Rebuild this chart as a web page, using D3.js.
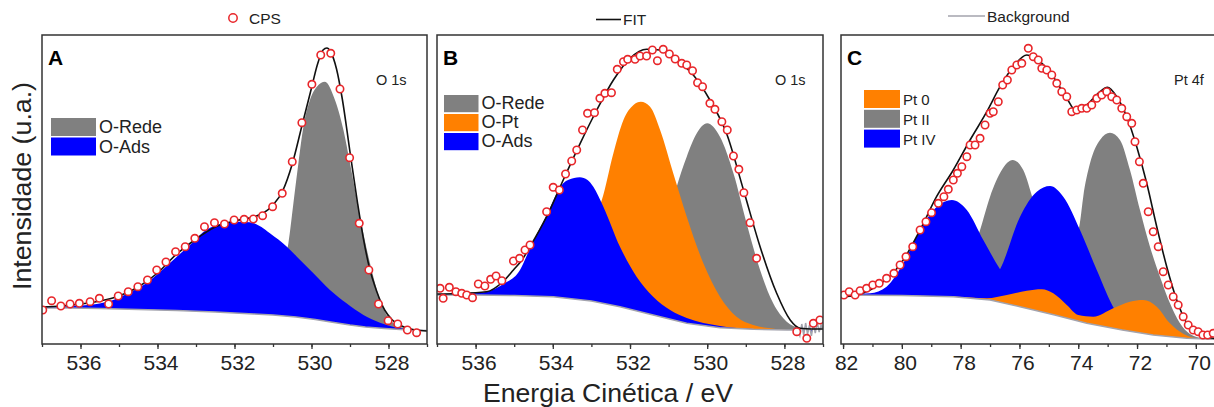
<!DOCTYPE html>
<html><head><meta charset="utf-8">
<script src="https://cdn.jsdelivr.net/npm/d3@7"></script>
<style>html,body{margin:0;padding:0;background:#fff;} svg{display:block;font-family:Arial,"Liberation Sans",sans-serif;}</style>
</head><body><svg id="chart" width="1214" height="407"></svg>
<script>
// ---------- DATA (binding energy eV, intensity a.u.) ----------
const oTicks = [536, 534, 532, 530, 528];
const ptTicks = [82, 80, 78, 76, 74, 72, 70];
const topLegend = ["CPS", "FIT", "Background"];
const legendA = ["O-Rede", "O-Ads"];
const legendB = ["O-Rede", "O-Pt", "O-Ads"];
const legendC = ["Pt 0", "Pt II", "Pt IV"];

// Panel A  (O 1s)
const aCps = [[536.98,34],[536.75,43.3],[536.51,38],[536.27,40],[536.03,40.7],[535.75,42.3],[535.51,45.7],[535.27,40],[535.02,48],[534.76,52.3],[534.51,57.3],[534.26,64],[534.02,74],[533.78,82],[533.53,92.3],[533.28,97.3],[533.03,105.7],[532.78,117.3],[532.52,121.3],[532.26,120],[532.01,124],[531.75,124.7],[531.51,125],[531.27,128.3],[531.01,137.3],[530.76,150.7],[530.5,182.3],[530.25,221.3],[529.99,259.7],[529.76,289],[529.5,290.7],[529.26,255],[529.01,186.3],[528.76,120.7],[528.51,74],[528.26,40],[528.01,23.3],[527.76,20],[527.51,14],[527.27,11.3]];
const aFit = [[537,37],[536.5,38],[536,40],[535.5,43],[535,48],[534.5,57],[534,71],[533.5,90],[533,105],[532.5,117],[532,123],[531.75,125],[531.5,127],[531.25,131],[531,139],[530.75,153],[530.5,180],[530.25,218],[530,256],[529.85,279],[529.7,294],[529.6,296],[529.5,292],[529.35,275],[529.2,245],[529,192],[528.8,140],[528.65,105],[528.5,77],[528.3,52],[528.1,34],[527.9,24],[527.6,17],[527.3,14],[527,13]];
const aBg = [[537,36],[536.3,36],[535.5,35.5],[534.5,34.5],[533.5,33.5],[532.5,32],[531.5,30],[531,29],[530.4,27],[529.9,24.5],[529.5,22],[529,19],[528.6,17],[528.1,15.5],[527.7,14.5],[527,13.5]];
const aRede = [[531.2,30],[530.9,45],[530.75,80],[530.6,100.7],[530.47,140.7],[530.34,180.7],[530.21,217.3],[530.04,244],[529.86,257.3],[529.65,262.3],[529.4,245],[529.17,214],[529.0,180.7],[528.74,127.3],[528.48,80.7],[528.22,44],[527.96,24],[527.6,16],[527.3,14],[527,13.5]];
const aAds = [[537,36.5],[536.6,37],[536.19,38],[535.58,40],[535.15,44],[534.7,52],[534.28,61],[533.85,75],[533.42,90],[533.1,101],[532.81,112],[532.46,119],[532.2,121.5],[531.94,122.3],[531.7,122],[531.51,121],[531.3,117],[531.08,110.7],[530.64,97.3],[530.38,87.3],[529.95,70.7],[529.52,54],[529.09,40.7],[528.65,29],[528.22,21.3],[527.79,16.3],[527.3,14],[527,13.5]];

// Panel B  (O 1s)
const bCps = [[536.92,55.7],[536.84,45.7],[536.68,56.7],[536.51,52.3],[536.36,50.7],[536.23,49],[536.08,46.3],[535.93,60],[535.76,58],[535.61,64.7],[535.47,68],[535.32,63.3],[535.02,83],[534.86,85.7],[534.72,94],[534.59,99],[534.16,132.3],[533.99,156.7],[533.83,154],[533.67,170],[533.51,183],[533.38,194],[533.23,214],[533.1,230.7],[532.92,231.3],[532.78,245.7],[532.65,250.7],[532.48,251.3],[532.33,274.7],[532.17,282.3],[532.06,284.7],[531.87,284.7],[531.74,288],[531.57,288],[531.42,294],[531.29,283.3],[531.14,294.7],[530.98,290],[530.83,285],[530.66,280.7],[530.53,279],[530.38,273.3],[530.25,261.3],[530.12,257.3],[529.93,240.7],[529.8,234.7],[529.62,222.3],[529.48,214],[529.32,188],[529.18,174.7],[529.05,151.3],[528.89,121.3],[528.72,85.7],[527.68,12.3],[527.42,5.7],[527.25,20.7],[527.08,24]];
const bFit = [[537,50],[536.5,50.5],[535.72,52.3],[535.3,62],[535.02,74],[534.8,84],[534.59,97.3],[534.16,127.3],[533.73,164],[533.29,200.7],[532.86,234],[532.43,264],[532.0,285.7],[531.57,294.7],[531.22,294],[530.79,284],[530.36,269],[529.93,244],[529.5,210.7],[529.06,154],[528.63,97.3],[528.2,50.7],[527.85,24],[527.59,15.7],[527.3,15],[527,15]];
const bBg = [[537,49],[536,49],[535,48.5],[533.99,47.3],[533,43],[532.26,37.3],[531.4,29],[530.53,20.7],[529.67,16.3],[528.8,14.7],[527.94,14],[527.66,14],[527.6,8],[527.55,20],[527.5,9],[527.45,21],[527.4,10],[527.35,19],[527.3,8],[527.25,20],[527.2,11],[527.15,22],[527.1,12],[527.05,19],[527,14]];
const bRede = [[532,25],[531.7,40],[531.4,70],[531.1,110],[530.79,157.3],[530.53,187.3],[530.27,210.7],[530.0,220.7],[529.67,207.3],[529.32,170.7],[528.98,120.7],[528.63,74],[528.29,40.7],[527.94,22.3],[527.6,15.7],[527.3,14],[527,14]];
const bPt = [[533.8,50],[533.4,75],[533.1,110],[532.9,128],[532.73,144],[532.43,190.7],[532.17,224],[531.91,239],[531.72,242.3],[531.48,237.3],[531.22,214],[530.88,170.7],[530.53,127.3],[530.1,80.7],[529.67,47.3],[529.24,27.3],[528.81,19],[528.37,15.7],[527.94,14],[527,14]];
const bAds = [[537,49.5],[536.3,50],[535.71,52.3],[535.28,60],[534.85,74],[534.59,95.7],[534.16,129],[533.73,160.7],[533.45,166],[533.3,166.7],[533.1,164],[532.95,157.3],[532.69,137.3],[532.26,97.3],[531.83,67.3],[531.4,47.3],[530.96,34],[530.53,26],[529.67,18],[528.81,15],[527.94,14],[527,14]];

// Panel C  (Pt 4f)
const cCps = [[81.97,49],[81.79,52.3],[81.59,49],[81.42,53.3],[81.2,55.7],[80.99,59],[80.77,60.7],[80.52,65.7],[80.27,70.7],[80.06,79],[79.86,87.3],[79.63,97.3],[79.38,114],[79.18,122.3],[78.99,131.3],[78.76,140.7],[78.57,147.3],[78.42,154.7],[78.25,164],[78.11,170.7],[77.96,177.3],[77.79,187.3],[77.68,199],[77.51,199],[77.34,205.7],[77.17,219],[77.0,230.7],[76.89,232.3],[76.72,242.3],[76.57,259],[76.41,264],[76.26,274],[76.09,279],[75.92,280.7],[75.7,295.7],[75.53,287.3],[75.36,284],[75.24,275.7],[75.07,274],[74.9,269],[74.73,260.7],[74.56,252.3],[74.39,247.3],[74.22,232.3],[74.05,234],[73.88,235.7],[73.71,235.7],[73.54,239],[73.37,245.7],[73.2,249],[73.03,252.3],[72.86,247.3],[72.69,244],[72.52,235.7],[72.35,227.3],[72.18,220.7],[72.07,202.3],[71.92,182.3],[71.79,160.7],[71.62,132.3],[71.45,112.3],[71.28,97.3],[71.11,72.3],[70.94,59],[70.77,47.3],[70.6,39],[70.43,27.3],[70.26,19],[70.09,14],[69.92,12.3],[69.76,9],[69.6,9],[69.41,10.7]];
const cFit = [[82.1,47.3],[81.99,47.3],[81.08,54],[79.95,84],[79.38,114],[78.82,147.3],[78.25,174],[77.68,204],[77.11,232.3],[76.66,257.3],[76.21,277.3],[75.75,289],[75.3,282.3],[74.85,267.3],[74.39,245.7],[74.05,232.3],[73.71,239],[73.26,252.3],[73.01,256.7],[72.69,247.3],[72.35,227.3],[72.01,197.3],[71.67,160.7],[71.33,117.3],[70.99,77.3],[70.65,44],[70.31,20.7],[69.86,9],[69.41,5.7],[69,5]];
const cBg = [[82.1,49],[80,48.5],[78.25,47.3],[77,44],[75.98,37.3],[74.8,29],[73.71,20.7],[72.5,14],[71.45,9],[70.31,5.7],[69.41,4.7],[69,4.5]];
const cPtIIa = [[78.6,45],[78.25,50.7],[77.8,74],[77.34,114],[77.0,147.3],[76.6,174],[76.23,184],[75.87,174],[75.53,144],[75.07,100.7],[74.62,67.3],[74.1,45],[73.5,30]];
const cPtIIb = [[75.2,40],[74.62,54],[74.17,97.3],[73.94,122],[73.83,147.3],[73.6,180.7],[73.26,204],[72.92,211.3],[72.58,204],[72.24,174],[71.9,134],[71.56,97.3],[71.22,67.3],[70.88,40.7],[70.54,20.7],[70.2,10],[69.76,5.7],[69.3,4.7],[69,4.5]];
const cPtIVa = [[82.1,49],[81.65,50],[81.08,50.7],[80.52,57.3],[79.95,80.7],[79.38,114],[78.81,137.3],[78.3,144],[77.79,134],[77.23,104],[76.66,74.7],[76.1,52],[75.5,40]];
const cPtIVb = [[77.8,44],[77.23,55],[76.66,74.7],[75.98,127.3],[75.41,152.3],[74.96,158],[74.51,147.3],[73.94,114],[73.37,74],[72.75,34],[72.01,14],[71.45,9],[70.8,6]];
const cPt0 = [[82.1,49],[79,48],[78.25,47.5],[77.11,45.7],[76.43,49],[75.75,53.3],[75.24,54.7],[74.85,50.7],[74.39,39],[74.0,29],[73.49,27.3],[72.81,35.7],[72.24,42.3],[71.79,44],[71.33,37.3],[70.88,20.7],[70.42,10],[69.97,5.7],[69.5,4.7],[69,4.5]];

// ---------- STYLE / LAYOUT ----------
const GRAY = "#808080", BLUE = "#0000ff", ORANGE = "#ff8000", RED = "#e8262a", BGLINE = "#a3a3ad";
const TOP = 35, BOT = 344;

const panels = [
  {key:"A", x0:42, x1:427, domain:[537,527], minor:d3.range(527,538), major:oTicks, title:"O 1s", titleX:376,
   cps:aCps, fit:aFit, bg:aBg,
   fills:[{d:aRede,c:GRAY},{d:aAds,c:BLUE}],
   legend:{x:51, y:118, w:45, h:18, gap:1.5, size:18, items:legendA.map((t,i)=>({t, c:[GRAY,BLUE][i]}))}},
  {key:"B", x0:437, x1:823, domain:[537,527], minor:d3.range(527,538), major:oTicks, title:"O 1s", titleX:775,
   cps:bCps, fit:bFit, bg:bBg,
   fills:[{d:bRede,c:GRAY},{d:bPt,c:ORANGE},{d:bAds,c:BLUE}],
   legend:{x:444, y:95, w:34.5, h:17.2, gap:1.8, size:18, items:legendB.map((t,i)=>({t, c:[GRAY,ORANGE,BLUE][i]}))}},
  {key:"C", x0:841, x1:1222.3, domain:[82.07,69.1], minor:d3.range(70,83), major:ptTicks, title:"Pt 4f", titleX:1174,
   cps:cCps, fit:cFit, bg:cBg,
   fills:[{d:cPtIIa,c:GRAY},{d:cPtIIb,c:GRAY},{d:cPtIVa,c:BLUE},{d:cPtIVb,c:BLUE},{d:cPt0,c:ORANGE}],
   legend:{x:864, y:90, w:36, h:18, gap:1.8, size:15, items:legendC.map((t,i)=>({t, c:[ORANGE,GRAY,BLUE][i]}))}}
];

const svg = d3.select("#chart");
const defs = svg.append("defs");

panels.forEach((p, pi) => {
  const x = d3.scaleLinear().domain(p.domain).range([p.x0, p.x1]);
  const y = d3.scaleLinear().domain([0, BOT - TOP]).range([BOT, TOP]);
  const cid = "clip" + pi;
  defs.append("clipPath").attr("id", cid).append("rect")
    .attr("x", p.x0).attr("y", TOP).attr("width", p.x1 - p.x0).attr("height", BOT - TOP);
  const g = svg.append("g");
  const gc = g.append("g").attr("clip-path", `url(#${cid})`);

  const area = d3.area().x(d => x(d[0])).y0(y(0)).y1(d => y(d[1])).curve(d3.curveMonotoneX);
  const line = d3.line().x(d => x(d[0])).y(d => y(d[1])).curve(d3.curveMonotoneX);

  p.fills.forEach(f => {
    gc.append("path").datum([...f.d].sort((a,b)=>a[0]-b[0])).attr("d", area).attr("fill", f.c);
  });
  // white mask below background
  const bgSorted = [...p.bg].sort((a,b)=>a[0]-b[0]);
  gc.append("path").datum(bgSorted).attr("d", d3.area().x(d=>x(d[0])).y0(y(0)+2).y1(d=>y(d[1])).curve(d3.curveLinear)).attr("fill", "#fff");
  gc.append("path").datum(bgSorted).attr("d", d3.line().x(d=>x(d[0])).y(d=>y(d[1])).curve(d3.curveLinear))
    .attr("fill", "none").attr("stroke", BGLINE).attr("stroke-width", 1.5);
  gc.append("path").datum([...p.fit].sort((a,b)=>a[0]-b[0])).attr("d", line)
    .attr("fill", "none").attr("stroke", "#111").attr("stroke-width", 1.6);
  gc.selectAll("circle.cps").data(p.cps).join("circle").attr("class","cps")
    .attr("cx", d => x(d[0])).attr("cy", d => y(d[1])).attr("r", 3.7)
    .attr("fill", "#fff").attr("stroke", RED).attr("stroke-width", 1.6);

  // frame
  g.append("rect").attr("x", p.x0).attr("y", TOP).attr("width", p.x1 - p.x0).attr("height", BOT - TOP)
    .attr("fill", "none").attr("stroke", "#333").attr("stroke-width", 1.5);

  // axis
  const ax = g.append("g").attr("transform", `translate(0,${BOT})`);
  ax.call(d3.axisBottom(x).tickValues(p.minor).tickSize(3).tickFormat(""))
    .call(s => s.select(".domain").remove());
  const axM = g.append("g").attr("transform", `translate(0,${BOT})`);
  axM.call(d3.axisBottom(x).tickValues(p.major).tickSize(5).tickPadding(6).tickFormat(d3.format("d")))
    .call(s => s.select(".domain").remove());
  g.selectAll(".tick line").attr("stroke", "#333").attr("stroke-width", 1.3);
  axM.selectAll(".tick text").attr("font-size", 21).attr("fill", "#222")
    .attr("font-family", "Arial, 'Liberation Sans', sans-serif").attr("dx", 3);

  // panel letter and title
  g.append("text").attr("x", p.x0 + 6).attr("y", 65).attr("font-size", 21).attr("font-weight", "bold")
    .attr("fill", "#000").text(p.key);
  g.append("text").attr("x", p.titleX).attr("y", 85).attr("font-size", 14.5).attr("fill", "#222").text(p.title);

  // legend
  const L = p.legend;
  L.items.forEach((it, i) => {
    const yy = L.y + i * (L.h + L.gap);
    g.append("rect").attr("x", L.x).attr("y", yy).attr("width", L.w).attr("height", L.h).attr("fill", it.c);
    g.append("text").attr("x", L.x + L.w + 3).attr("y", yy + L.h - 3).attr("font-size", L.size)
      .attr("fill", "#222").text(it.t);
  });
});

// top legend
const tl = svg.append("g").attr("font-size", 15.5).attr("fill", "#222");
tl.append("circle").attr("cx", 233).attr("cy", 18).attr("r", 4.2).attr("fill", "#fff").attr("stroke", RED).attr("stroke-width", 1.5);
tl.append("text").attr("x", 249).attr("y", 23.5).text(topLegend[0]);
tl.append("line").attr("x1", 596).attr("x2", 621).attr("y1", 19.5).attr("y2", 19.5).attr("stroke", "#111").attr("stroke-width", 1.6);
tl.append("text").attr("x", 623).attr("y", 25).text(topLegend[1]);
tl.append("line").attr("x1", 948).attr("x2", 985).attr("y1", 16).attr("y2", 16).attr("stroke", BGLINE).attr("stroke-width", 1.6);
tl.append("text").attr("x", 987).attr("y", 21.5).text(topLegend[2]);

// axis titles
svg.append("text").attr("x", 608).attr("y", 402).attr("text-anchor", "middle").attr("font-size", 25)
  .attr("fill", "#222").attr("textLength", 250).attr("lengthAdjust", "spacingAndGlyphs").text("Energia Cinética / eV");
svg.append("text").attr("transform", "translate(31,186) rotate(-90)").attr("text-anchor", "middle")
  .attr("font-size", 25).attr("fill", "#222").attr("textLength", 208).attr("lengthAdjust", "spacingAndGlyphs").text("Intensidade (u.a.)");
</script></body></html>
